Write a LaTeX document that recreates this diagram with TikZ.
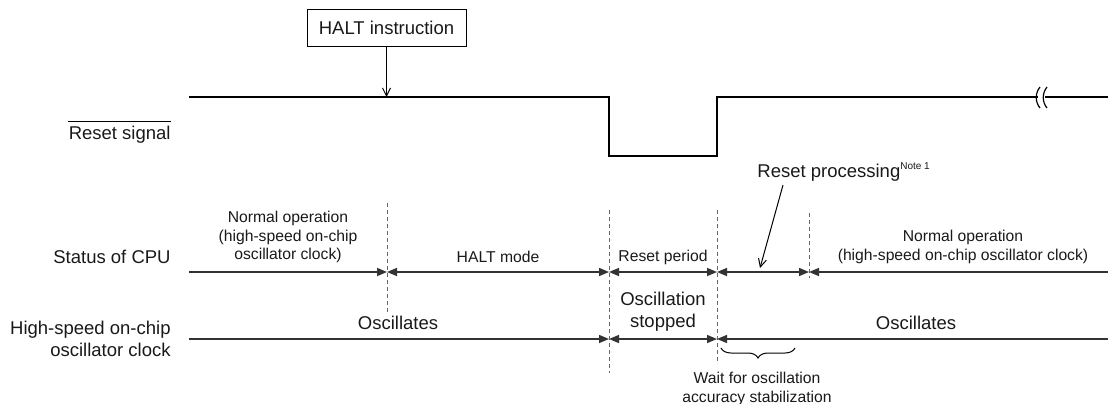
\documentclass[tikz,border=0pt]{standalone}
\usepackage{fontspec}
\setmainfont{Liberation Sans}
\usepackage{xcolor}
\colorlet{colLine}{black!80}
\colorlet{colDash}{black!60}
\colorlet{colText}{black!90}
\usetikzlibrary{arrows.meta, positioning, calc, decorations.pathreplacing}

\begin{document}
\begin{tikzpicture}[x=0.5pt, y=-0.5pt, >={Triangle[length=5pt,width=4pt]},
	every node/.style={font=\fontsize{9.25}{10.8}\selectfont, text=colText, inner sep=0pt, align=center},
	small/.style={font=\fontsize{7.85}{9.2}\selectfont},
	tline/.style={draw=colLine, line width=0.75pt},
	sig/.style={line width=1pt, line join=miter},
	guide/.style={colDash, line width=0.5pt, dash pattern=on 2pt off 1.5pt},
	pointer/.style={line width=0.5pt, -{Straight Barb[length=4pt,width=4pt]}}]
				\useasboundingbox (0,0) rectangle (1108,403);
				% reset signal
				\node[draw, line width=0.5pt, minimum width=79.5pt, minimum height=18.5pt] (halt) at (386.5,27.5) {HALT instruction};
				\coordinate (hit) at (386.5,97);
				\draw[pointer] (halt.south) -- (hit);
				\node[anchor=east] (rstlbl) at (171,135) {Reset signal};
				\draw[line width=0.5pt] ([yshift=2pt]rstlbl.north west) -- ([yshift=2pt]rstlbl.north east);
				\coordinate (s0) at (189,97);
				\coordinate (sfall) at (609,97);
				\coordinate (slow1) at (609,156);
				\coordinate (slow2) at (717,156);
				\coordinate (srise) at (717,97);
				\coordinate (sbrk1) at (1038,97);
				\coordinate (sbrk2) at (1045,97);
				\coordinate (s1) at (1108,97);
				\draw[sig] (s0) -- (sfall) -- (slow1) -- (slow2) -- (srise) -- (sbrk1);
				\draw[sig] (sbrk2) -- (s1);
				\foreach \bx in {1038,1045}{
					\draw[line width=0.6pt] (\bx+2,87) .. controls (\bx-3,93) and (\bx-3,102) .. (\bx+2,108);
				}
				% reset processing
				\node[anchor=west] (rproc) at (757,172) {Reset processing\raisebox{0.45em}{\fontsize{5}{6}\selectfont Note 1}};
				\coordinate (rpfrom) at (783,185);
				\coordinate (rphit) at (760,268);
				\draw[pointer] (rpfrom) -- (rphit);
				% dashed boundaries
				\foreach \gx/\gt/\gb in {387/203/312, 609/210/373, 717/210/364, 809/213/278}{
					\draw[guide] (\gx,\gt) -- (\gx,\gb);
				}
				% status of CPU
				\node[anchor=east] (cpulbl) at (171,257) {Status of CPU};
				\foreach \n/\px in {a/189, b/387, c/609, d/717, e/809, f/1108}{
					\coordinate (cpu\n) at (\px,272);
				}
				\draw[tline, ->] (cpua) -- (cpub);
				\foreach \p/\q in {b/c, c/d, d/e}{
					\draw[tline, <->] (cpu\p) -- (cpu\q);
				}
				\draw[tline, <-] (cpue) -- (cpuf);
				\node[small] (norm1) at (288,237) {Normal operation\\(high-speed on-chip\\oscillator clock)};
				\node[small] (haltm) at (498,257) {HALT mode};
				\node[small] (rstp) at (663,257) {Reset period};
				\node[small] (norm2) at (963,247) {Normal operation\\(high-speed on-chip oscillator clock)};
				% oscillator clock
				\node[anchor=east, align=right] (clklbl) at (171,339) {High-speed on-chip\\oscillator clock};
				\foreach \n/\px in {a/189, c/609, d/717, f/1108}{
					\coordinate (clk\n) at (\px,339);
				}
				\draw[tline, ->] (clka) -- (clkc);
				\draw[tline, <->] (clkc) -- (clkd);
				\draw[tline, <-] (clkd) -- (clkf);
				\node (osc1) at (398,323) {Oscillates};
				\node (osc2) at (663,312) {Oscillation\\stopped};
				\node (osc3) at (916,323) {Oscillates};
				\coordinate (brl) at (721,348);
				\coordinate (brr) at (795,348);
				\draw[decorate, decoration={brace, amplitude=5pt}, line width=0.5pt] (brr) -- (brl);
				\node[small] (waitlbl) at (757,389) {Wait for oscillation\\accuracy stabilization};
			\end{tikzpicture}
\end{document}
